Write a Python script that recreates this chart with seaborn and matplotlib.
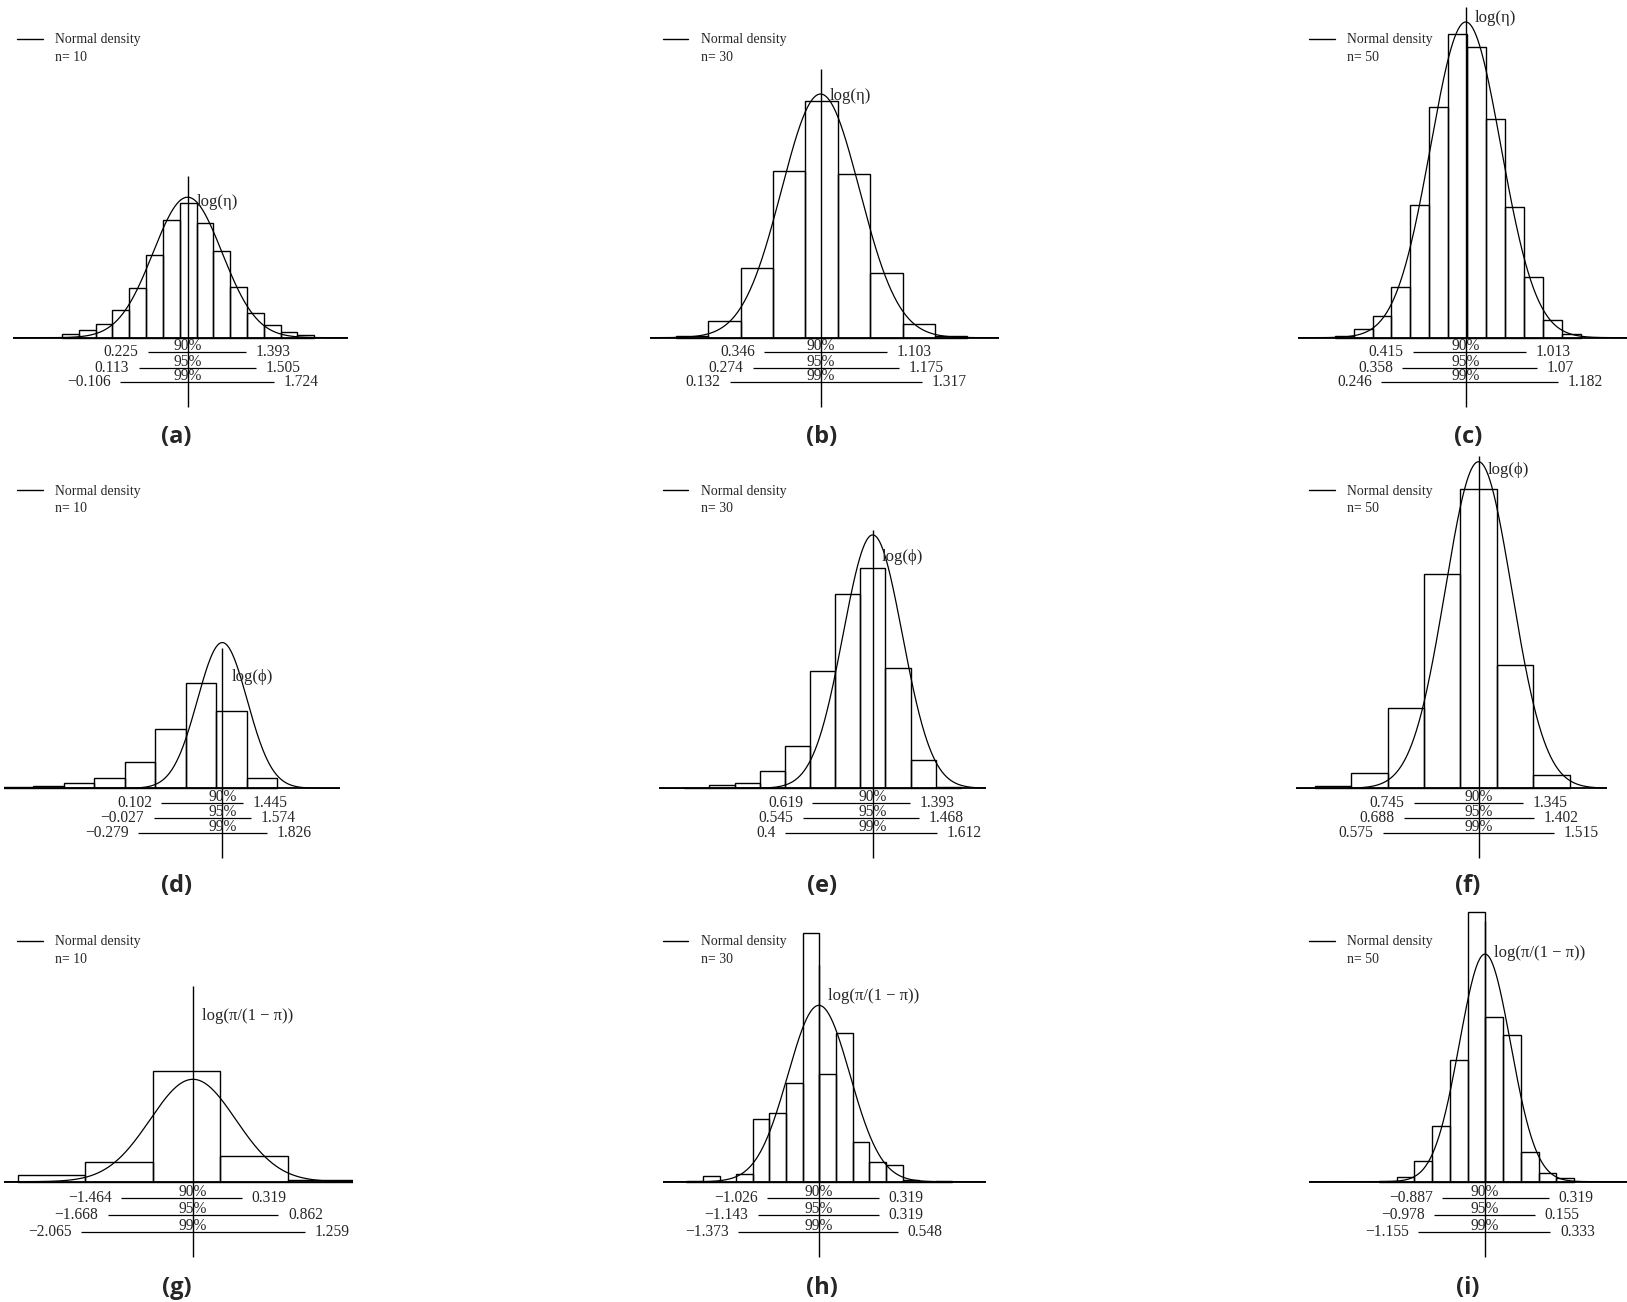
import numpy as np
import pandas as pd
import matplotlib
matplotlib.use("Agg")
import matplotlib.pyplot as plt
import seaborn as sns
from matplotlib.lines import Line2D

sns.set_theme(style="white")
plt.rcParams["font.family"] = ["Liberation Serif", "DejaVu Serif"]

# ---------------- data ----------------
panel_tags = ["(a)", "(b)", "(c)", "(d)", "(e)", "(f)", "(g)", "(h)", "(i)"]
sample_sizes = [10, 30, 50, 10, 30, 50, 10, 30, 50]
param_labels = ["log(η)"] * 3 + ["log(ϕ)"] * 3 + ["log(π/(1 − π))"] * 3
true_values = [0.693] * 3 + [1.099] * 3 + [-0.405] * 3
normal_mean = [0.693, 0.693, 0.693, 1.099, 1.099, 1.099, -0.405, -0.405, -0.405]
normal_sd = [0.41, 0.241, 0.186, 0.407, 0.236, 0.183, 0.635, 0.373, 0.289]

bin_start = [-0.8, -0.2, 0.0, -2.5, -0.4, 0.2, -3.0, -2.0, -1.6]
bin_width = [0.2, 0.2, 0.1, 0.5, 0.2, 0.2, 1.0, 0.2, 0.2]

dens_a = [0.023, 0.053, 0.092, 0.194, 0.342, 0.570, 0.815, 0.930, 0.796, 0.600, 0.351, 0.171, 0.090, 0.042, 0.016]
dens_b = [0.011, 0.115, 0.476, 1.132, 1.610, 1.110, 0.437, 0.095, 0.014]
dens_c = [0.011, 0.057, 0.149, 0.346, 0.901, 1.569, 2.063, 1.977, 1.483, 0.890, 0.410, 0.120, 0.023]
dens_d = [0.007, 0.018, 0.034, 0.072, 0.177, 0.399, 0.706, 0.520, 0.067]
dens_e = [0.004, 0.022, 0.036, 0.113, 0.280, 0.780, 1.298, 1.467, 0.805, 0.187, 0.007]
dens_f = [0.016, 0.105, 0.534, 1.433, 1.998, 0.826, 0.089]
dens_g = [0.039, 0.119, 0.679, 0.155, 0.008]
dens_h = [0.004, 0.032, 0.0, 0.046, 0.378, 0.414, 0.598, 1.506, 0.653, 0.899, 0.238, 0.117, 0.099, 0.010, 0.0, 0.004]
dens_i = [0.004, 0.028, 0.123, 0.335, 0.736, 1.633, 0.996, 0.889, 0.180, 0.055, 0.020]
densities = [dens_a, dens_b, dens_c, dens_d, dens_e, dens_f, dens_g, dens_h, dens_i]

ci90_lo = [0.225, 0.346, 0.415, 0.102, 0.619, 0.745, -1.464, -1.026, -0.887]
ci90_hi = [1.393, 1.103, 1.013, 1.445, 1.393, 1.345, 0.319, 0.319, 0.319]
ci95_lo = [0.113, 0.274, 0.358, -0.027, 0.545, 0.688, -1.668, -1.143, -0.978]
ci95_hi = [1.505, 1.175, 1.07, 1.574, 1.468, 1.402, 0.862, 0.319, 0.155]
ci99_lo = [-0.106, 0.132, 0.246, -0.279, 0.4, 0.575, -2.065, -1.373, -1.155]
ci99_hi = [1.724, 1.317, 1.182, 1.826, 1.612, 1.515, 1.259, 0.548, 0.333]
ci_levels = ["90%", "95%", "99%"]

# ---------------- layout (reference pixels) ----------------
W, H = 1627, 1302
x_extent = [(12.5, 348.2), (650, 999), (1298.3, 1627),
            (4.3, 340.0), (659.3, 985.7), (1296, 1606.7),
            (4.3, 352.9), (663.3, 985.7), (1309.3, 1627)]
xlims = [(-1.389, 2.603), (-0.36, 1.795), (-0.193, 1.546),
         (-2.47, 3.026), (-0.599, 1.998), (0.098, 1.802),
         (-3.2, 1.965), (-2.276, 1.6), (-2.386, 1.196)]
yscale = [144.4, 147.2, 147.2, 148.7, 149.9, 149.8, 163.0, 164.9, 164.9]
row_span = [(0, 412), (440, 863), (900, 1262)]
baseline_y = [337.7, 788.3, 1181.7]
vline_top = [176, 69, 7, 648.3, 530, 456, 986, 965, 920.7]
vline_bottom = [407, 858.3, 1257.3]
ci_offsets = [(14.7, 30.0, 44.7), (15.0, 30.0, 45.0), (16.6, 33.3, 50.0)]
label_y = [202, 95.7, 18.3, 676.7, 557.3, 470, 1016, 995.7, 953.3]
legend_x = [17.1, 662.7, 1309.3]
legend_top = [33.5, 484.5, 935.5]
tag_x = [176.5, 821.7, 1468]
tag_y = [436.7, 886, 1288]

PT = 0.72  # points per pixel at dpi 100


def fmt(v):
    return f"{v:g}".replace("-", "−")


fig = plt.figure(figsize=(W / 100, H / 100), dpi=100)
fig.patch.set_facecolor("white")

for i in range(9):
    r, c = divmod(i, 3)
    top_px, bot_px = row_span[r]
    x0, x1 = x_extent[i]
    b = baseline_y[r]
    k = yscale[i]
    ax = fig.add_axes([x0 / W, 1 - bot_px / H, (x1 - x0) / W, (bot_px - top_px) / H])
    ax.set_axis_off()

    def ydat(py, b=b, k=k):
        return (b - py) / k

    # histogram
    dens = np.array(densities[i])
    edges = [bin_start[i] + bin_width[i] * n for n in range(len(dens) + 1)]
    centers = [(edges[n] + edges[n + 1]) / 2 for n in range(len(dens))]
    hist_df = pd.DataFrame({"x": centers, "w": dens})
    sns.histplot(data=hist_df, x="x", weights="w", bins=edges, stat="count",
                 fill=False, color="black", linewidth=1.0, ax=ax)

    # normal density
    xs = np.linspace(xlims[i][0], xlims[i][1], 600)
    ys = np.exp(-0.5 * ((xs - normal_mean[i]) / normal_sd[i]) ** 2) / (normal_sd[i] * np.sqrt(2 * np.pi))
    sns.lineplot(x=xs, y=ys, color="black", linewidth=0.9, ax=ax, legend=False)

    # baseline
    ax.axhline(0, color="black", linewidth=1.3)

    # true value line
    ax.vlines(true_values[i], ydat(vline_bottom[r]), ydat(vline_top[i]),
              color="black", linewidth=1.0)
    ax.annotate(param_labels[i], xy=(true_values[i], ydat(label_y[i])),
                xytext=(9 * PT, 0), textcoords="offset points",
                ha="left", va="center", fontsize=12, annotation_clip=False)

    # intervals
    los = [ci90_lo[i], ci95_lo[i], ci99_lo[i]]
    his = [ci90_hi[i], ci95_hi[i], ci99_hi[i]]
    for j in range(3):
        yl = ydat(b + ci_offsets[r][j])
        ax.hlines(yl, los[j], his[j], color="black", linewidth=0.9)
        ax.annotate(fmt(los[j]), xy=(los[j], yl), xytext=(-9.5 * PT, -4 * PT),
                    textcoords="offset points", ha="right", va="baseline",
                    fontsize=11.2, annotation_clip=False)
        ax.annotate(fmt(his[j]), xy=(his[j], yl), xytext=(9.5 * PT, -4 * PT),
                    textcoords="offset points", ha="left", va="baseline",
                    fontsize=11.2, annotation_clip=False)
        ax.annotate(ci_levels[j], xy=(true_values[i], yl), xytext=(0, 2 * PT),
                    textcoords="offset points", ha="center", va="baseline",
                    fontsize=11.2, annotation_clip=False)

    ax.set_xlim(*xlims[i])
    ax.set_ylim(ydat(bot_px), ydat(top_px))

    # legend
    handles = [Line2D([], [], color="black", linewidth=1.0),
               Line2D([], [], color="none")]
    ax.legend(handles=handles, labels=["Normal density", f"n= {sample_sizes[i]}"],
              loc="upper left", bbox_to_anchor=(legend_x[c] / W, 1 - legend_top[r] / H),
              bbox_transform=fig.transFigure, frameon=False, borderpad=0,
              borderaxespad=0, handlelength=1.85, handletextpad=0.9,
              labelspacing=0.32, fontsize=9.9)

    fig.text(tag_x[c] / W, 1 - tag_y[r] / H, panel_tags[i], ha="center", va="center",
             fontfamily="Open Sans", fontweight="bold", fontsize=17)

fig.savefig("out.png", dpi=100, facecolor="white")
